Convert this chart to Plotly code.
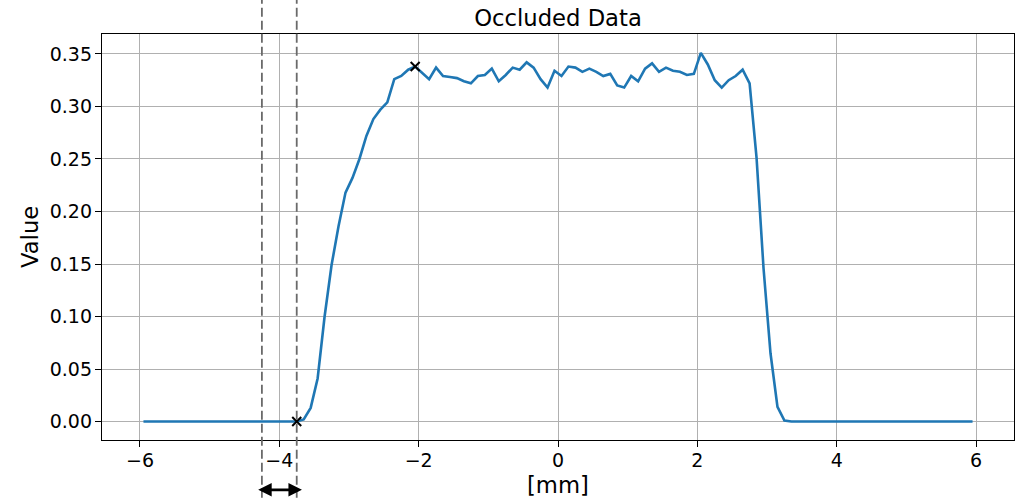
import plotly.graph_objects as go
import numpy as np

# Sampling positions along the scan [mm]
x_mm = np.linspace(-5.95, 5.95, 120)

# Measured profile values
values = (
    [0.0] * 23
    + [0.002, 0.013, 0.041, 0.100, 0.149, 0.186, 0.218, 0.232, 0.250, 0.272,
       0.288, 0.297, 0.304, 0.326, 0.329, 0.335, 0.338, 0.332, 0.326, 0.337,
       0.329, 0.328, 0.327, 0.324, 0.322, 0.329, 0.330, 0.336, 0.324, 0.330,
       0.337, 0.335, 0.342, 0.337, 0.326, 0.318, 0.334, 0.329, 0.338, 0.337,
       0.333, 0.336, 0.333, 0.329, 0.331, 0.320, 0.318, 0.329, 0.324, 0.336,
       0.341, 0.333, 0.337, 0.334, 0.333, 0.330, 0.331, 0.351, 0.340, 0.325,
       0.318, 0.325, 0.329, 0.335, 0.322, 0.251, 0.146, 0.065, 0.014, 0.001]
    + [0.0] * 27
)

# Indices of the detected edge start and plateau start
edge_idx = [22, 39]

# Occlusion window boundaries [mm]
window_edges = [-4.25, -3.75]

x_tick_vals = [-6, -4, -2, 0, 2, 4, 6]
y_tick_vals = [0.00, 0.05, 0.10, 0.15, 0.20, 0.25, 0.30, 0.35]

x_range = [-6.545, 6.545]
y_range = [-0.01757, 0.3690]

FONT = "DejaVu Sans"
TICK_PX = 19
LABEL_PX = 22.7

fig = go.Figure()

fig.add_trace(go.Scatter(
    x=x_mm, y=values, mode="lines",
    line=dict(color="#1f77b4", width=2.6),
    showlegend=False, hoverinfo="skip",
))

fig.add_trace(go.Scatter(
    x=[x_mm[i] for i in edge_idx], y=[values[i] for i in edge_idx],
    mode="markers",
    marker=dict(symbol="x-thin", size=9, line=dict(color="black", width=2)),
    showlegend=False, hoverinfo="skip", cliponaxis=False,
))


def to_paper_x(v):
    return (v - x_range[0]) / (x_range[1] - x_range[0])


# Dashed window boundaries spanning the whole figure height
plot_top, plot_bottom = 34.3, 440.2
plot_h = plot_bottom - plot_top
for xe in window_edges:
    fig.add_shape(
        type="line", xref="paper", yref="paper",
        x0=to_paper_x(xe), x1=to_paper_x(xe),
        y0=(plot_bottom - 498) / plot_h, y1=plot_bottom / plot_h,
        line=dict(color="#6a6a6a", width=1.8, dash="9px,4px"),
        layer="above",
    )

# Double-headed arrow marking the window width below the axis
arrow_y = (plot_bottom - 490) / plot_h
pad = 0.075
fig.add_annotation(
    x=window_edges[1] + pad, y=arrow_y, ax=window_edges[0] - pad, ay=0,
    xref="x", yref="paper", axref="x", ayref="pixel",
    text="", showarrow=True, arrowside="end+start",
    arrowhead=2, startarrowhead=2, arrowsize=1.0, startarrowsize=1.0,
    arrowwidth=2.7, arrowcolor="black", standoff=0, startstandoff=0,
)

# Axis labels
fig.add_annotation(
    text="[mm]", xref="paper", yref="paper", x=0.5, y=(plot_bottom - 485) / plot_h,
    showarrow=False, xanchor="center", yanchor="middle",
    font=dict(family=FONT, size=LABEL_PX, color="black"),
)
fig.add_annotation(
    text="Value", xref="paper", yref="paper", x=(29 - 101.7) / 911.9,
    y=(plot_bottom - 237) / plot_h, textangle=-90,
    showarrow=False, xanchor="center", yanchor="middle",
    font=dict(family=FONT, size=LABEL_PX, color="black"),
)

axis_common = dict(
    showline=True, linecolor="black", linewidth=1.4, mirror=True,
    ticks="outside", ticklen=6, tickwidth=1.4, tickcolor="black",
    showgrid=True, gridcolor="#b0b0b0", gridwidth=1.4, zeroline=False,
    tickfont=dict(family=FONT, size=TICK_PX, color="black"),
)

fig.update_xaxes(range=x_range, tickvals=x_tick_vals, ticklabelstandoff=-3, **axis_common)
fig.update_yaxes(range=y_range, tickvals=y_tick_vals, tickformat=".2f",
                 ticklabelstandoff=-1, **axis_common)

fig.update_layout(
    width=1020, height=498,
    margin=dict(l=102, r=6, t=34, b=58),
    paper_bgcolor="white", plot_bgcolor="white",
    title=dict(
        text="Occluded Data", x=0.5, xref="paper", xanchor="center",
        y=1 - 18.5 / 498, yref="container", yanchor="middle",
        font=dict(family=FONT, size=LABEL_PX, color="black"),
    ),
)

fig.write_html("out.html")
